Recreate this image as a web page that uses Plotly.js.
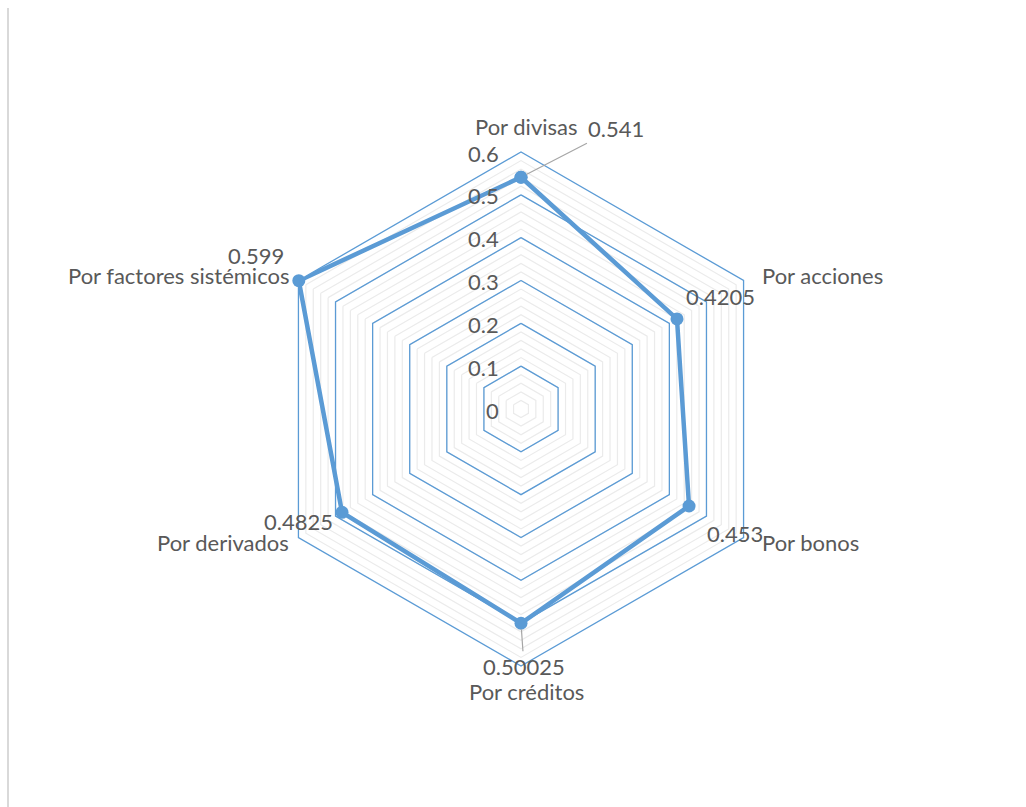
<!DOCTYPE html>
<html>
<head>
<meta charset="utf-8">
<script src="https://cdn.plot.ly/plotly-3.0.1.min.js"></script>
<style>html,body{margin:0;padding:0;background:#fff;}#chart{width:1026px;height:807px;}</style>
</head>
<body>
<div id="chart"></div>
<script>
// ---- data ----
const categories = ["Por divisas", "Por acciones", "Por bonos", "Por créditos", "Por derivados", "Por factores sistémicos"];
const values = [0.541, 0.4205, 0.453, 0.50025, 0.4825, 0.599];
const valueLabels = ["0.541", "0.4205", "0.453", "0.50025", "0.4825", "0.599"];
const majorTicks = [0, 0.1, 0.2, 0.3, 0.4, 0.5, 0.6];
const majorTickText = ["0", "0.1", "0.2", "0.3", "0.4", "0.5", "0.6"];
const minorStep = 0.02;

// ---- style ----
const BLUE = "#5B9BD5";
const TXT = "#595959";
const FONT = "Lato, 'Open Sans', sans-serif";
const FS = 22;
const W = 1026, H = 807;
const CX = 521, CY = 409, R = 257;
const dom = {
  x: [(CX - R) / W, (CX + R) / W],
  y: [(H - CY - R) / H, (H - CY + R) / H]
};
// value label offsets (pixels) relative to each point, and whether a leader line is drawn
const labelOffsets = [
  {ax: 95, ay: -49, leader: true},
  {ax: 44, ay: -22, leader: false},
  {ax: 46, ay: 27, leader: false},
  {ax: 3, ay: 43, leader: true},
  {ax: -44, ay: 9, leader: false},
  {ax: -43, ay: -25, leader: false}
];
// category label placement relative to the outer vertex
const catPlace = [
  {xanchor: "center", xshift: 5, yshift: 26},
  {xanchor: "left", xshift: 16, yshift: 5},
  {xanchor: "left", xshift: 16, yshift: -5},
  {xanchor: "center", xshift: 5, yshift: -25},
  {xanchor: "right", xshift: -7, yshift: -5},
  {xanchor: "right", xshift: -7, yshift: 5}
];

// radial grid values (minor grid every 0.02)
const rmax = majorTicks[majorTicks.length - 1];
const tickvals = [];
for (let k = 0; k <= Math.round(rmax / minorStep); k++) tickvals.push(+(k * minorStep).toFixed(4));

const closedTheta = categories.concat([categories[0]]);
const traces = [];
// major blue hexagon rings (inner ones; outer is the angular axis line)
majorTicks.filter(m => m > 0 && m < rmax).forEach(m => {
  traces.push({
    type: "scatterpolar", mode: "lines",
    r: closedTheta.map(() => m), theta: closedTheta,
    line: {color: BLUE, width: 1.3},
    hoverinfo: "skip", showlegend: false
  });
});
// data series
traces.push({
  type: "scatterpolar", mode: "lines+markers",
  r: values.concat([values[0]]), theta: closedTheta,
  line: {color: BLUE, width: 4.5},
  marker: {color: BLUE, size: 13},
  showlegend: false
});
// invisible cartesian copy of the points, used to anchor labels
const angles = categories.map((c, i) => i * 2 * Math.PI / categories.length);
const px = values.map((v, i) => v * Math.sin(angles[i]));
const py = values.map((v, i) => v * Math.cos(angles[i]));
traces.push({
  type: "scatter", mode: "markers", x: px, y: py, xaxis: "x", yaxis: "y",
  marker: {opacity: 0}, hoverinfo: "skip", showlegend: false
});

const tf = {family: FONT, size: FS, color: TXT};
const annotations = [];
// value labels
values.forEach((v, i) => annotations.push({
  xref: "x", yref: "y", x: px[i], y: py[i],
  text: valueLabels[i],
  showarrow: true, axref: "pixel", ayref: "pixel",
  ax: labelOffsets[i].ax, ay: labelOffsets[i].ay,
  arrowhead: 0, arrowwidth: 1.2,
  arrowcolor: labelOffsets[i].leader ? "#A6A6A6" : "rgba(0,0,0,0)",
  standoff: 6, startstandoff: 0,
  font: tf
}));
// category labels at outer vertices
categories.forEach((c, i) => annotations.push({
  xref: "x", yref: "y",
  x: rmax * Math.sin(angles[i]), y: rmax * Math.cos(angles[i]),
  text: c, showarrow: false,
  xanchor: catPlace[i].xanchor, yanchor: "middle",
  xshift: catPlace[i].xshift, yshift: catPlace[i].yshift,
  font: tf
}));
// radial tick labels, left of the vertical axis
majorTicks.forEach((m, i) => annotations.push({
  xref: "x", yref: "y", x: 0, y: m,
  text: majorTickText[i], showarrow: false,
  xanchor: "right", yanchor: "middle", xshift: -20, yshift: -1,
  font: tf
}));

const layout = {
  width: W, height: H,
  margin: {l: 0, r: 0, t: 0, b: 0},
  paper_bgcolor: "#ffffff",
  plot_bgcolor: "rgba(0,0,0,0)",
  showlegend: false,
  font: tf,
  polar: {
    domain: dom,
    gridshape: "linear",
    bgcolor: "rgba(0,0,0,0)",
    radialaxis: {
      range: [0, rmax], angle: 90,
      tickvals: tickvals, showticklabels: false,
      showline: false, ticks: "",
      gridcolor: "#EBEBEB", gridwidth: 1.2
    },
    angularaxis: {
      rotation: 90, direction: "clockwise",
      showgrid: false, showline: true, showticklabels: false,
      linecolor: BLUE, linewidth: 1.3,
      ticks: ""
    }
  },
  xaxis: {domain: dom.x, range: [-rmax, rmax], visible: false, fixedrange: true},
  yaxis: {domain: dom.y, range: [-rmax, rmax], visible: false, fixedrange: true},
  annotations: annotations,
  shapes: [{
    type: "line", xref: "paper", yref: "paper",
    x0: 8 / W, x1: 8 / W, y0: 0, y1: (H - 8) / H,
    line: {color: "#D9D9D9", width: 2}
  }]
};

Plotly.newPlot("chart", traces, layout, {displayModeBar: false, staticPlot: true});
</script>
</body>
</html>
